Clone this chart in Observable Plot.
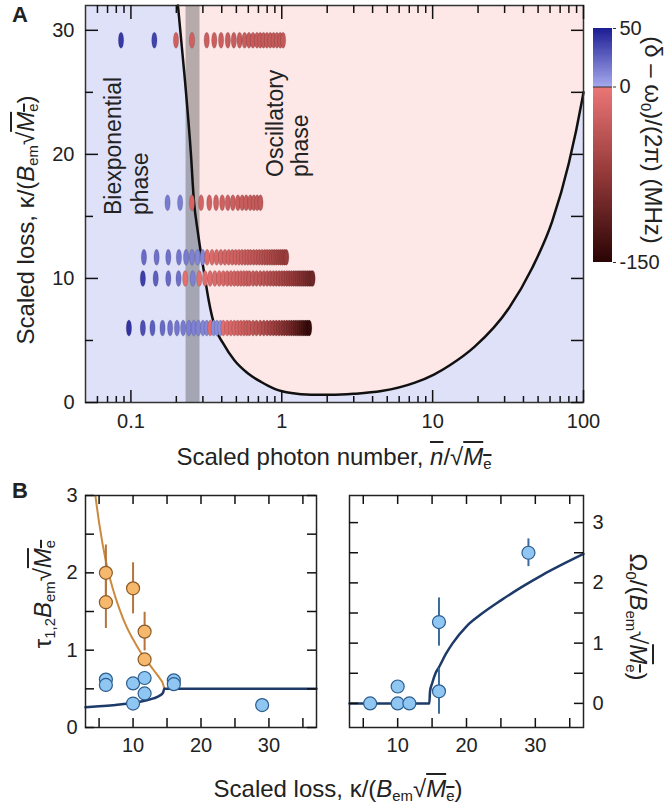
<!DOCTYPE html>
<html><head><meta charset="utf-8">
<script src="https://cdn.jsdelivr.net/npm/d3@7"></script>
<script src="https://cdn.jsdelivr.net/npm/@observablehq/plot@0.6"></script>
<style>
body{margin:0;background:#fff;}
#root{position:relative;width:667px;height:805px;overflow:hidden;font-family:"Liberation Sans",Arial,sans-serif;color:#222;}
#root svg{position:absolute;}
.t{position:absolute;white-space:nowrap;line-height:1;font-size:24px;}
.up{transform:translate(-50%,-50%) rotate(-90deg);}
.down{transform:translate(-50%,-50%) rotate(90deg);}
.mid{transform:translate(-50%,-50%);}
.ph{position:absolute;white-space:nowrap;font-size:23px;line-height:23px;transform-origin:0 0;transform:rotate(-90deg);}
.ov{text-decoration:overline;}
sub{font-size:0.62em;vertical-align:-0.3em;line-height:0;}
.pl{position:absolute;font-weight:bold;font-size:22px;line-height:22px;}
</style>
</head><body>
<div id="root"></div>
<script>
// ---------- Panel A data ----------
const X_DOMAIN_A = [0.05, 100];
const Y_DOMAIN_A = [0, 32];
const X_TICKS_A = [0.1, 1, 10, 100];
const X_MINOR_A = [0.06,0.07,0.08,0.09,0.2,0.3,0.4,0.5,0.6,0.7,0.8,0.9,2,3,4,5,6,7,8,9,20,30,40,50,60,70,80,90];
const Y_TICKS_A = [0, 10, 20, 30];
const Y_MINOR_A = [5, 15, 25];
const Y_RIGHT_A = [0, 5, 10, 15, 20, 25, 30];

// phase boundary (scaled photon number, scaled loss)
const boundaryN = [0.205, 0.228, 0.25, 0.261, 0.278, 0.31, 0.327, 0.362, 0.407, 0.485, 0.595, 0.731, 0.896, 1.156, 1.57, 2.13, 3.0, 4.58, 7.63, 10.2, 13, 19, 32, 45.5, 62, 80, 98, 100];
const boundaryK = [32, 26, 20, 16.4, 13.7, 10, 8.3, 6, 4.8, 3.4, 2.35, 1.65, 1.1, 0.76, 0.63, 0.62, 0.7, 0.92, 1.6, 2.25, 3.0, 4.5, 7.6, 10.8, 14.6, 19.3, 24.4, 25];
const GRAY_BAND = [0.232, 0.287];

const ROW_KAPPA = [29.2, 16.1, 11.7, 10, 6];
const nRow29 = [0.086, 0.143, 0.199, 0.254, 0.318, 0.357, 0.396, 0.439, 0.481, 0.525, 0.567, 0.606, 0.644, 0.685, 0.72, 0.757, 0.797, 0.839, 0.883, 0.929, 0.977, 1.02];
const dRow29 = [40, 36, -25, -25, -28, -28, -28, -30, -30, -30, -30, -32, -32, -32, -32, -33, -33, -33, -34, -34, -35, -35];
const nRow16 = [0.175, 0.212, 0.254, 0.292, 0.331, 0.367, 0.403, 0.439, 0.474, 0.512, 0.547, 0.581, 0.618, 0.653, 0.687, 0.722];
const dRow16 = [16, 15, -20, -22, -24, -25, -26, -27, -28, -29, -30, -31, -32, -33, -34, -35];
const nRow12 = [0.122, 0.148, 0.177, 0.208, 0.232, 0.254, 0.277, 0.299, 0.32, 0.345, 0.37, 0.395, 0.42, 0.445, 0.47, 0.495, 0.52, 0.545, 0.57, 0.595, 0.62, 0.65, 0.68, 0.71, 0.74, 0.77, 0.8, 0.83, 0.86, 0.89, 0.92, 0.95, 0.98, 1.01, 1.04, 1.07];
const dRow12 = [22, 20, 20, 18, 16, 14, 12, 12, -12, -14, -16, -18, -20, -22, -24, -25, -27, -29, -31, -33, -35, -37, -40, -42, -44, -47, -49, -51, -54, -56, -58, -61, -63, -65, -67, -70];
const nRow10 = [0.12, 0.146, 0.177, 0.207, 0.229, 0.257, 0.284, 0.31, 0.335, 0.36, 0.385, 0.41, 0.435, 0.46, 0.485, 0.51, 0.535, 0.56, 0.585, 0.61, 0.645, 0.68, 0.72, 0.76, 0.8, 0.84, 0.88, 0.92, 0.96, 1.0, 1.04, 1.08, 1.12, 1.16, 1.2, 1.24, 1.28, 1.32, 1.36, 1.4, 1.44, 1.48, 1.52, 1.56, 1.6];
const dRow10 = [38, 26, 22, 20, -8, 14, -8, -10, -12, -13, -15, -17, -19, -20, -22, -24, -26, -27, -29, -31, -33, -36, -39, -41, -44, -47, -50, -53, -55, -58, -61, -64, -67, -69, -72, -75, -78, -81, -83, -86, -89, -92, -95, -97, -100];
const nRow6 = [0.097, 0.12, 0.139, 0.162, 0.182, 0.202, 0.222, 0.242, 0.261, 0.28, 0.3, 0.318, 0.336, 0.354, 0.372, 0.392, 0.41, 0.435, 0.46, 0.485, 0.51, 0.535, 0.56, 0.585, 0.61, 0.645, 0.68, 0.72, 0.76, 0.8, 0.84, 0.88, 0.92, 0.96, 1.0, 1.04, 1.08, 1.12, 1.16, 1.2, 1.24, 1.28, 1.32, 1.36, 1.4, 1.44, 1.48, 1.52];
const dRow6 = [42, 32, 26, 22, 20, 18, 16, 15, 14, 13, 12, 12, -8, 10, 10, 8, -10, -13, -16, -19, -22, -25, -28, -31, -34, -38, -42, -46, -51, -56, -60, -65, -70, -74, -79, -84, -89, -93, -98, -103, -108, -112, -117, -122, -127, -132, -137, -142];

// colour bar
const CBAR_STOPS = [-150, -70, -0.01, 0.01, 50];
const CBAR_COLORS = ["#2a0404", "#9a3c3c", "#ec7676", "#a4a8ec", "#1c1c94"];
const CBAR_TICKS = [50, 0, -150];

// ---------- Panel B data ----------
const X_DOMAIN_B = [3, 37];
const X_TICKS_B = [10, 20, 30];
const X_MINOR_B = [5, 10, 15, 20, 25, 30, 35];
const Y_DOMAIN_B1 = [0, 3];
const Y_TICKS_B1 = [0, 1, 2, 3];
const Y_MINOR_B = [0, 0.5, 1, 1.5, 2, 2.5, 3];
const Y_DOMAIN_B2 = [-0.4, 3.45];
const Y_TICKS_B2 = [0, 1, 2, 3];

const slowK = [6, 6, 10, 11.7, 11.7];
const slowTau = [2.0, 1.62, 1.8, 1.24, 0.88];
const slowErr = [0.36, 0.34, 0.33, 0.25, 0.06];
const fastK = [6, 6, 10, 10, 11.7, 11.7, 16, 16, 29];
const fastTau = [0.62, 0.55, 0.57, 0.31, 0.64, 0.44, 0.61, 0.56, 0.29];
const slowCurveK = [4.45, 5, 6, 7, 8, 9, 10, 11, 12, 13, 14, 14.4, 14.6];
const slowCurveTau = [3.0, 2.65, 2.15, 1.8, 1.53, 1.31, 1.14, 0.99, 0.865, 0.747, 0.627, 0.566, 0.5];
const fastCurveK = [3, 5, 7, 9, 10, 11, 12, 13, 14, 14.4, 14.6, 37];
const fastCurveTau = [0.262, 0.274, 0.288, 0.306, 0.32, 0.334, 0.352, 0.376, 0.416, 0.448, 0.5, 0.5];

const omegaK = [6, 10, 10, 11.7, 16, 16, 29];
const omegaV = [0, 0.28, 0, 0, 1.35, 0.2, 2.5];
const omegaErr = [0, 0, 0, 0, 0.4, 0.38, 0.23];
const omegaCurveK = [3, 14.6, 14.7, 15, 15.5, 16, 17, 18, 20, 22, 25, 28, 31, 34, 37];
const omegaCurveV = [0, 0, 0.2, 0.33, 0.5, 0.6, 0.82, 1.0, 1.28, 1.47, 1.71, 1.93, 2.13, 2.31, 2.48];

// ---------- styles ----------
const FONT = '"Liberation Sans", Arial, sans-serif';
const BLUE_BG = "#dfe1f9", PINK_BG = "#fde7e7";
const ORANGE_LINE = "#cc8a3e", ORANGE_FILL = "#f6b86c", ORANGE_EDGE = "#8c5a28", ORANGE_ERR = "#b4743c";
const NAVY = "#1d3a68", LIGHTBLUE = "#8fc6f2", BLUE_EDGE = "#2c5d8f", BLUE_ERR = "#3a6a9a";
const style = {fontFamily: FONT, fontSize: "20px", color: "#222", background: "transparent", overflow: "visible"};

const ellipse = {
  draw(ctx, size) {
    const r = Math.sqrt(size / Math.PI), ry = r, rx = r * 0.33, k = 0.5523;
    ctx.moveTo(rx, 0);
    ctx.bezierCurveTo(rx, ry * k, rx * k, ry, 0, ry);
    ctx.bezierCurveTo(-rx * k, ry, -rx, ry * k, -rx, 0);
    ctx.bezierCurveTo(-rx, -ry * k, -rx * k, -ry, 0, -ry);
    ctx.bezierCurveTo(rx * k, -ry, rx, -ry * k, rx, 0);
    ctx.closePath();
  }
};
const colorScale = {type: "linear", domain: CBAR_STOPS, range: CBAR_COLORS, clamp: true};

// inward ticks drawn as short rules; their length is converted from pixels into data units
function ticksIn(side, ticks, size, xd, yd, W, H, xlog = false) {
  const xs = xlog ? f => xd[0] * Math.pow(xd[1] / xd[0], f) : f => xd[0] + f * (xd[1] - xd[0]);
  const ys = f => yd[0] + f * (yd[1] - yd[0]);
  const common = {stroke: "#111", strokeWidth: 1.5};
  if (side === "left") return Plot.ruleY(ticks, {y: d => d, x1: xs(0), x2: xs(size / W), ...common});
  if (side === "right") return Plot.ruleY(ticks, {y: d => d, x1: xs(1 - size / W), x2: xs(1), ...common});
  if (side === "bottom") return Plot.ruleX(ticks, {x: d => d, y1: ys(0), y2: ys(size / H), ...common});
  return Plot.ruleX(ticks, {x: d => d, y1: ys(1 - size / H), y2: ys(1), ...common});
}
function labels(axis, anchor, ticks, pad) {
  return axis({anchor, ticks, tickSize: 0, tickPadding: pad, tickFormat: d => String(d), label: null, fill: "#222"});
}

const boundary = boundaryN.map((n, i) => ({n, k: boundaryK[i]}));
const rows = [[nRow29, dRow29], [nRow16, dRow16], [nRow12, dRow12], [nRow10, dRow10], [nRow6, dRow6]];
const dotsA = rows.flatMap(([ns, ds], r) => ns.map((n, i) => ({n, k: ROW_KAPPA[r], d: ds[i]})));

const WA = 600 - 85 - 17, HA = 440 - 5 - 38;
const tA = (side, ticks, size) => ticksIn(side, ticks, size, X_DOMAIN_A, Y_DOMAIN_A, WA, HA, true);
const chartA = Plot.plot({
  width: 600, height: 440, marginLeft: 85, marginRight: 17, marginTop: 5, marginBottom: 38,
  x: {type: "log", domain: X_DOMAIN_A}, y: {domain: Y_DOMAIN_A}, color: colorScale, style,
  marks: [
    Plot.frame({fill: BLUE_BG, stroke: "none"}),
    Plot.areaY(boundary, {x: "n", y1: "k", y2: Y_DOMAIN_A[1], curve: "monotone-x", fill: PINK_BG}),
    Plot.rect([GRAY_BAND], {x1: d => d[0], x2: d => d[1], y1: Y_DOMAIN_A[0], y2: Y_DOMAIN_A[1], fill: "#555", fillOpacity: 0.42}),
    Plot.line(boundary, {x: "n", y: "k", curve: "monotone-x", stroke: "#111", strokeWidth: 2.5}),
    Plot.dot(dotsA, {x: "n", y: "k", fill: "d", r: 8, symbol: ellipse, stroke: "#000", strokeOpacity: 0.22, strokeWidth: 0.6}),
    Plot.frame({stroke: "#333", strokeWidth: 1.5}),
    tA("left", Y_TICKS_A, 13),
    tA("left", Y_MINOR_A, 8),
    tA("right", Y_RIGHT_A, 12),
    tA("bottom", X_TICKS_A, 12),
    tA("bottom", X_MINOR_A, 6),
    tA("top", X_TICKS_A, 14),
    tA("top", X_MINOR_A, 8),
    labels(Plot.axisY, "left", Y_TICKS_A, 11),
    labels(Plot.axisX, "bottom", X_TICKS_A, 11)
  ]
});

const ramp = d3.range(CBAR_STOPS[0], CBAR_STOPS[CBAR_STOPS.length - 1], 1);
const cbar = Plot.plot({
  width: 75, height: 290, marginLeft: 13, marginRight: 43, marginTop: 28, marginBottom: 28,
  x: {domain: [0, 1], axis: null}, y: {domain: [CBAR_STOPS[0], CBAR_STOPS[CBAR_STOPS.length - 1]]},
  color: colorScale, style,
  marks: [
    Plot.rect(ramp, {x1: 0, x2: 1, y1: d => d, y2: d => d + 1, fill: d => d + 0.5, shapeRendering: "crispEdges"}),
    Plot.ruleY([0], {stroke: "#333", strokeWidth: 1}),
    Plot.axisY({anchor: "right", ticks: CBAR_TICKS, tickSize: 3, tickPadding: 4, tickFormat: d => String(d), label: null, stroke: "#333"})
  ]
});

const slowPts = slowK.map((k, i) => ({k, v: slowTau[i], e: slowErr[i]}));
const fastPts = fastK.map((k, i) => ({k, v: fastTau[i]}));
const slowCurve = slowCurveK.map((k, i) => ({k, v: slowCurveTau[i]}));
const fastCurve = fastCurveK.map((k, i) => ({k, v: fastCurveTau[i]}));

const WB1 = 330 - 85 - 14, HB = 300 - 25 - 43;
const tB1 = (side, ticks) => ticksIn(side, ticks, 9, X_DOMAIN_B, Y_DOMAIN_B1, WB1, HB);
const chartB1 = Plot.plot({
  width: 330, height: 300, marginLeft: 85, marginRight: 14, marginTop: 25, marginBottom: 43,
  x: {domain: X_DOMAIN_B}, y: {domain: Y_DOMAIN_B1}, style,
  marks: [
    Plot.line(slowCurve, {x: "k", y: "v", stroke: ORANGE_LINE, strokeWidth: 2, curve: "monotone-x", clip: true}),
    Plot.line(fastCurve, {x: "k", y: "v", stroke: NAVY, strokeWidth: 2.5, curve: "monotone-x"}),
    Plot.ruleX(slowPts, {x: "k", y1: d => d.v - d.e, y2: d => d.v + d.e, stroke: ORANGE_ERR, strokeWidth: 2}),
    Plot.dot(fastPts, {x: "k", y: "v", r: 6.5, fill: LIGHTBLUE, stroke: BLUE_EDGE, strokeWidth: 1.2}),
    Plot.dot(slowPts, {x: "k", y: "v", r: 6.5, fill: ORANGE_FILL, stroke: ORANGE_EDGE, strokeWidth: 1.2}),
    Plot.frame({stroke: "#222", strokeWidth: 1.5}),
    tB1("left", Y_MINOR_B),
    tB1("right", Y_MINOR_B),
    tB1("bottom", X_MINOR_B),
    tB1("top", X_MINOR_B),
    labels(Plot.axisY, "left", Y_TICKS_B1, 8),
    labels(Plot.axisX, "bottom", X_TICKS_B, 10)
  ]
});

const omegaPts = omegaK.map((k, i) => ({k, v: omegaV[i], e: omegaErr[i]}));
const omegaCurve = omegaCurveK.map((k, i) => ({k, v: omegaCurveV[i]}));
const WB2 = 337 - 19 - 84;
const tB2 = (side, ticks) => ticksIn(side, ticks, 9, X_DOMAIN_B, Y_DOMAIN_B2, WB2, HB);
const chartB2 = Plot.plot({
  width: 337, height: 300, marginLeft: 19, marginRight: 84, marginTop: 25, marginBottom: 43,
  x: {domain: X_DOMAIN_B}, y: {domain: Y_DOMAIN_B2}, style,
  marks: [
    Plot.line(omegaCurve, {x: "k", y: "v", stroke: NAVY, strokeWidth: 2.5, curve: "monotone-x"}),
    Plot.ruleX(omegaPts.filter(d => d.e > 0), {x: "k", y1: d => d.v - d.e, y2: d => d.v + d.e, stroke: BLUE_ERR, strokeWidth: 2}),
    Plot.dot(omegaPts, {x: "k", y: "v", r: 6.5, fill: LIGHTBLUE, stroke: BLUE_EDGE, strokeWidth: 1.2}),
    Plot.frame({stroke: "#222", strokeWidth: 1.5}),
    tB2("left", Y_MINOR_B),
    tB2("right", Y_MINOR_B),
    tB2("bottom", X_MINOR_B),
    tB2("top", X_MINOR_B),
    labels(Plot.axisY, "right", Y_TICKS_B2, 9),
    labels(Plot.axisX, "bottom", X_TICKS_B, 10)
  ]
});

const root = document.getElementById("root");
function place(svg, left, top) { svg.style.left = left + "px"; svg.style.top = top + "px"; root.appendChild(svg); }
place(chartA, 0, 0);
place(cbar, 580, 0);
place(chartB1, 0, 470);
place(chartB2, 330, 470);

const SQRT_ME = '√<span class="ov"><i>M</i><sub>e</sub></span>';
const texts = [
  {cls: "t up", x: 26, y: 220, html: `Scaled loss, κ/(<i>B</i><sub>em</sub>${SQRT_ME})`},
  {cls: "t mid", x: 334, y: 457, html: `Scaled photon number, <span class="ov"><i>n</i></span>/${SQRT_ME}`},
  {cls: "t down", x: 653, y: 140, html: `(δ – ω<sub>0</sub>)/(2π) (MHz)`},
  {cls: "t up", x: 43, y: 594, html: `τ<sub>1,2</sub><i>B</i><sub>em</sub>${SQRT_ME}`},
  {cls: "t down", x: 638, y: 617, html: `Ω<sub>0</sub>/(<i>B</i><sub>em</sub>${SQRT_ME})`},
  {cls: "t mid", x: 338, y: 789, html: `Scaled loss, κ/(<i>B</i><sub>em</sub>${SQRT_ME})`}
];
for (const t of texts) {
  const div = document.createElement("div");
  div.className = t.cls; div.style.left = t.x + "px"; div.style.top = t.y + "px"; div.innerHTML = t.html;
  root.appendChild(div);
}
const phaseLabels = [
  {x: 102, y: 215, text: "Biexponential"}, {x: 128.5, y: 215, text: "phase"},
  {x: 263.5, y: 177, text: "Oscillatory"}, {x: 288.5, y: 177, text: "phase"}
];
for (const p of phaseLabels) {
  const div = document.createElement("div");
  div.className = "ph"; div.style.left = p.x + "px"; div.style.top = p.y + "px"; div.textContent = p.text;
  root.appendChild(div);
}
for (const [txt, x, y] of [["A", 12, 4], ["B", 12, 480]]) {
  const div = document.createElement("div");
  div.className = "pl"; div.style.left = x + "px"; div.style.top = y + "px"; div.textContent = txt;
  root.appendChild(div);
}
</script>
</body></html>
